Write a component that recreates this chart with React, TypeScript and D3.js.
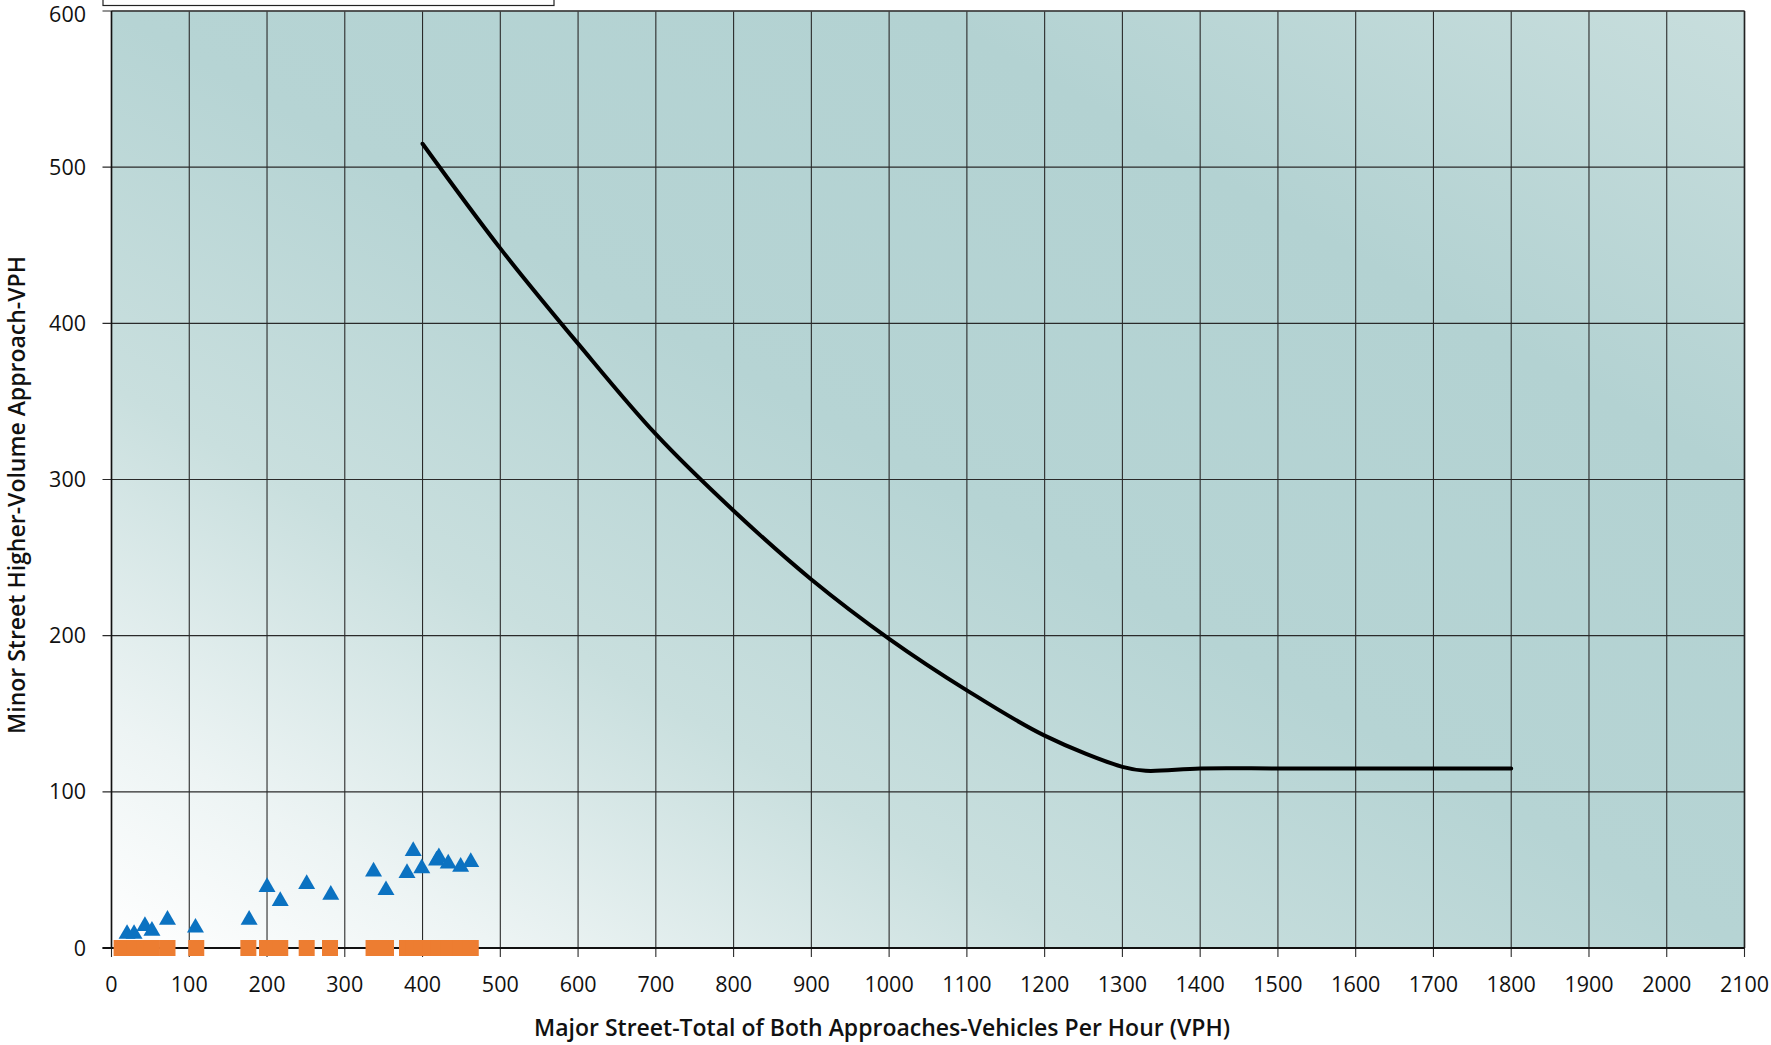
import { useEffect, useRef } from 'react';
import * as d3 from 'd3';

// threshold curve (major street VPH -> minor street VPH)
const curveX = [400, 500, 600, 700, 800, 900, 1000, 1100, 1200, 1300, 1330, 1400, 1500, 1600, 1700, 1800];
const curveY = [515, 448, 387, 329, 280, 236, 198, 165, 136, 116, 113.5, 115, 115, 115, 115, 115];

// observed hourly volumes (triangles)
const obsX = [20, 29, 43, 52, 72, 108, 177, 200, 217, 251, 282, 337, 353, 380, 388, 399, 418, 421, 433, 449, 462];
const obsY = [9, 9, 14, 11, 18, 13, 18, 39, 30, 41, 34, 49, 37, 48, 62, 51, 56, 58, 54, 52, 55];

// minor-street left/right-turn-adjusted volumes (squares, all zero)
const zeroX = [13, 20, 29, 43, 52, 72, 109, 176, 200, 210, 217, 251, 281, 337, 345, 353, 380, 388, 399, 410, 420, 433, 449, 462];
const zeroY = zeroX.map(() => 0);

const xTicks = d3.range(0, 2101, 100);
const yTicks = d3.range(0, 601, 100);

const W = 1771;
const H = 1045;
const FONT = '"Open Sans", "Noto Sans", sans-serif';

export default function App() {
  const svgRef = useRef<SVGSVGElement>(null);

  useEffect(() => {
    if (!svgRef.current) return;
    const svg = d3.select(svgRef.current);
    svg.selectAll('*').remove();

    const left = 111.5, right = 1744.5, top = 11, bottom = 948;
    const x = d3.scaleLinear().domain([0, 2100]).range([left, right]);
    const y = d3.scaleLinear().domain([0, 600]).range([bottom, top]);

    // background gradient
    const defs = svg.append('defs');
    const grad = defs.append('linearGradient')
      .attr('id', 'bg')
      .attr('x1', 0).attr('y1', 1).attr('x2', 1).attr('y2', 0);
    [
      { o: 0, c: '#ffffff' },
      { o: 0.12, c: '#edf4f4' },
      { o: 0.3, c: '#c9dfde' },
      { o: 0.5, c: '#b6d4d4' },
      { o: 0.75, c: '#b3d2d2' },
      { o: 1, c: '#c8dedd' },
    ].forEach(s => grad.append('stop').attr('offset', s.o).attr('stop-color', s.c));

    svg.append('rect')
      .attr('x', left).attr('y', top)
      .attr('width', right - left).attr('height', bottom - top)
      .attr('fill', 'url(#bg)');

    // legend box (cut off at top)
    svg.append('rect')
      .attr('x', 103).attr('y', -40)
      .attr('width', 451).attr('height', 45.5)
      .attr('fill', '#fff').attr('stroke', '#222').attr('stroke-width', 1.2);

    // grid
    const g = svg.append('g');
    g.selectAll('.vgrid')
      .data(xTicks)
      .join('line')
      .attr('x1', d => x(d)).attr('x2', d => x(d))
      .attr('y1', top).attr('y2', bottom + 9)
      .attr('stroke', '#2a2a2a').attr('stroke-width', 1.1);
    g.selectAll('.hgrid')
      .data(yTicks)
      .join('line')
      .attr('x1', left - 9).attr('x2', right)
      .attr('y1', d => y(d)).attr('y2', d => y(d))
      .attr('stroke', '#2a2a2a').attr('stroke-width', 1.1);

    // plot borders
    g.append('line').attr('x1', left).attr('x2', right).attr('y1', top).attr('y2', top)
      .attr('stroke', '#444').attr('stroke-width', 1.6);
    g.append('line').attr('x1', right).attr('x2', right).attr('y1', top).attr('y2', bottom)
      .attr('stroke', '#222').attr('stroke-width', 1.6);
    g.append('line').attr('x1', left).attr('x2', left).attr('y1', top).attr('y2', bottom)
      .attr('stroke', '#111').attr('stroke-width', 1.6);
    g.append('line').attr('x1', left - 9).attr('x2', right).attr('y1', bottom).attr('y2', bottom)
      .attr('stroke', '#111').attr('stroke-width', 1.8);

    // threshold curve
    const line = d3.line<number>()
      .x((_, i) => x(curveX[i]))
      .y(d => y(d))
      .curve(d3.curveCatmullRom.alpha(0.5));
    g.append('path')
      .attr('d', line(curveY))
      .attr('fill', 'none')
      .attr('stroke', '#000')
      .attr('stroke-width', 4)
      .attr('stroke-linecap', 'round');

    // triangles
    const tri = d3.symbol().type(d3.symbolTriangle).size(125);
    g.selectAll('.tri')
      .data(obsX)
      .join('path')
      .attr('d', tri)
      .attr('transform', (d, i) => `translate(${x(d)},${y(obsY[i])})`)
      .attr('fill', '#0b72c1');

    // squares
    g.selectAll('.sq')
      .data(zeroX)
      .join('rect')
      .attr('x', d => x(d) - 8)
      .attr('y', (_, i) => y(zeroY[i]) - 8)
      .attr('width', 16).attr('height', 16)
      .attr('fill', '#ed7d31');

    // tick labels
    g.selectAll('.xl')
      .data(xTicks)
      .join('text')
      .attr('x', d => x(d))
      .attr('y', 992)
      .attr('text-anchor', 'middle')
      .attr('font-family', FONT)
      .attr('font-size', 21.5)
      .attr('fill', '#111')
      .text(d => d);
    g.selectAll('.yl')
      .data(yTicks)
      .join('text')
      .attr('x', 86)
      .attr('y', d => Math.max(y(d) + 7.5, 22))
      .attr('text-anchor', 'end')
      .attr('font-family', FONT)
      .attr('font-size', 21.5)
      .attr('fill', '#111')
      .text(d => d);

    // axis titles
    g.append('text')
      .attr('x', 882).attr('y', 1036)
      .attr('text-anchor', 'middle')
      .attr('font-family', FONT)
      .attr('font-size', 23)
      .attr('font-weight', 600)
      .attr('fill', '#111')
      .text('Major Street-Total of Both Approaches-Vehicles Per Hour (VPH)');
    g.append('text')
      .attr('transform', 'translate(25,495) rotate(-90)')
      .attr('text-anchor', 'middle')
      .attr('font-family', FONT)
      .attr('font-size', 23)
      .attr('font-weight', 600)
      .attr('fill', '#111')
      .text('Minor Street Higher-Volume Approach-VPH');
  }, []);

  return (
    <svg
      ref={svgRef}
      width={W}
      height={H}
      style={{ position: 'absolute', left: 0, top: 0, background: '#fff' }}
    />
  );
}
